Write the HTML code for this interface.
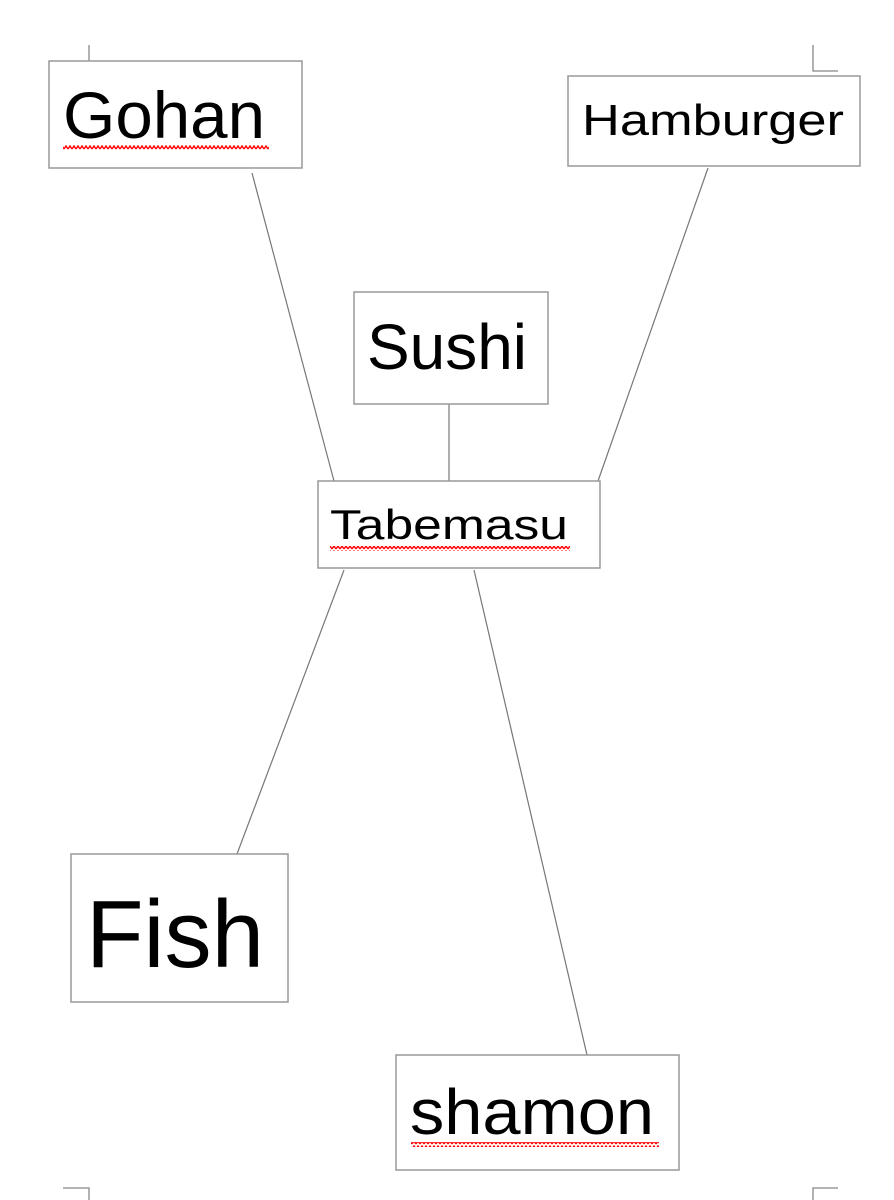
<!DOCTYPE html>
<html><head><meta charset="utf-8"><style>
html,body{margin:0;padding:0;background:#fff;width:894px;height:1200px;overflow:hidden}
text{font-family:"Liberation Sans",sans-serif;fill:#000}
</style></head><body>
<svg width="894" height="1200" viewBox="0 0 894 1200" xmlns="http://www.w3.org/2000/svg">
<defs>
<pattern id="wv" width="4" height="5" patternUnits="userSpaceOnUse">
<path d="M0 4 L2 1 L4 4" fill="none" stroke="#f00" stroke-width="1.4"/>
</pattern>
</defs>
<g stroke="#888" stroke-width="1.3" fill="none">
<path d="M89 45 V61"/>
<path d="M813 45 V71 H838"/>
<path d="M63 1188 H89 V1200"/>
<path d="M838 1188 H813 V1200"/>
</g>
<g stroke="#777" stroke-width="1.2">
<line x1="252" y1="173" x2="334" y2="481"/>
<line x1="708" y1="168" x2="598" y2="481"/>
<line x1="449" y1="404" x2="449" y2="481"/>
<line x1="344" y1="570" x2="237" y2="854"/>
<line x1="474" y1="570" x2="587" y2="1055"/>
</g>
<g fill="#fff" stroke="#999" stroke-width="1.5">
<rect x="49" y="61" width="253" height="107"/>
<rect x="568" y="76" width="292" height="90"/>
<rect x="354" y="292" width="194" height="112"/>
<rect x="318" y="481" width="282" height="87"/>
<rect x="71" y="854" width="217" height="148"/>
<rect x="396" y="1055" width="283" height="115"/>
</g>
<text x="63" y="138" font-size="66" textLength="202" lengthAdjust="spacingAndGlyphs">Gohan</text>
<rect x="63" y="145" width="206" height="5" fill="url(#wv)"/>
<text x="582" y="135" font-size="44" textLength="262" lengthAdjust="spacingAndGlyphs">Hamburger</text>
<text x="367" y="369" font-size="64" textLength="160" lengthAdjust="spacingAndGlyphs">Sushi</text>
<text x="330" y="539" font-size="42" textLength="238" lengthAdjust="spacingAndGlyphs">Tabemasu</text>
<rect x="330" y="546" width="240" height="5" fill="url(#wv)"/>
<text x="86" y="967" font-size="96" textLength="178" lengthAdjust="spacingAndGlyphs">Fish</text>
<text x="410" y="1134" font-size="64" textLength="244" lengthAdjust="spacingAndGlyphs">shamon</text>
<rect x="411" y="1142" width="248" height="5" fill="url(#wv)"/>
</svg>
</body></html>
